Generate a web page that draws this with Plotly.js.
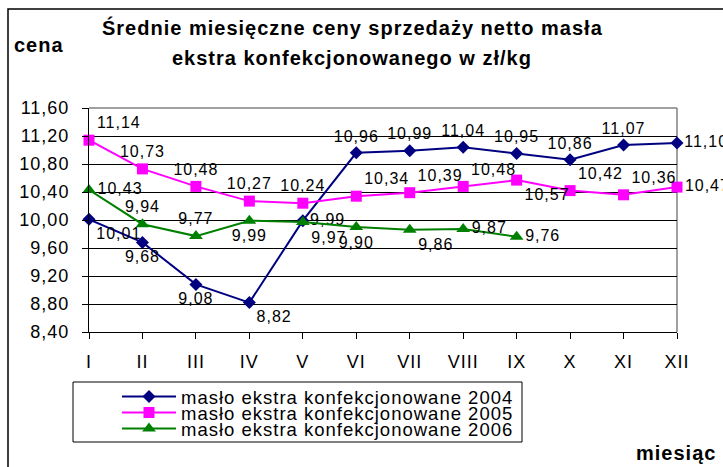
<!DOCTYPE html>
<html>
<head>
<meta charset="utf-8">
<script src="https://cdn.plot.ly/plotly-3.0.1.min.js"></script>
<style>
  html, body { margin: 0; padding: 0; background: #fff; }
  svg text { letter-spacing: 1px; }
</style>
</head>
<body>
<div id="chart" style="width:723px;height:467px;"></div>
<script>
// ---- data ----
const months = ['I', 'II', 'III', 'IV', 'V', 'VI', 'VII', 'VIII', 'IX', 'X', 'XI', 'XII'];
const months2006 = ['I', 'II', 'III', 'IV', 'V', 'VI', 'VII', 'VIII', 'IX'];
const price2004 = [10.01, 9.68, 9.08, 8.82, 9.99, 10.96, 10.99, 11.04, 10.95, 10.86, 11.07, 11.10];
const price2005 = [11.14, 10.73, 10.48, 10.27, 10.24, 10.34, 10.39, 10.48, 10.57, 10.42, 10.36, 10.47];
const price2006 = [10.43, 9.94, 9.77, 9.99, 9.97, 9.90, 9.86, 9.87, 9.76];
const yTicks = [8.4, 8.8, 9.2, 9.6, 10.0, 10.4, 10.8, 11.2, 11.6];
const seriesNames = ['masło ekstra konfekcjonowane 2004', 'masło ekstra konfekcjonowane 2005', 'masło ekstra konfekcjonowane 2006'];
const titleLine1 = 'Średnie miesięczne ceny sprzedaży netto masła';
const titleLine2 = 'ekstra konfekcjonowanego w zł/kg';

// ---- label placement ----
const pos2004 = ['bottom right','bottom center','bottom center','bottom right','middle right','top center','top center','top center','top center','top center','top center','middle right'];
const pos2005 = ['top right','top center','top center','top center','top center','top right','top right','top right','bottom right','top right','top right','middle right'];
const pos2006 = ['middle right','top center','top center','bottom center','bottom right','bottom center','bottom right','middle right','middle right'];

// ---- geometry (pixels) ----
const L = 89, R = 677, T = 108, B = 332;
const W = R - L, H = B - T;
const px = p => (p - L) / W;
const py = p => (B - p) / H;

const FONT = 'Arial, "Liberation Sans", sans-serif';
const labelFont = {family: FONT, size: 16, color: '#000'};

function trace(x, y, name, color, symbol, size, positions, legendId) {
  return {
    type: 'scatter', mode: 'lines+markers+text',
    x: x, y: y, name: name,
    line: {color: color, width: 2},
    marker: {color: color, symbol: symbol, size: size},
    texttemplate: '%{y:.2f}',
    textposition: positions,
    textfont: labelFont,
    cliponaxis: false,
    legend: legendId,
    hoverinfo: 'skip'
  };
}

const data = [
  trace(months, price2004, seriesNames[0], '#000080', 'diamond', 10, pos2004, 'legend'),
  trace(months, price2005, seriesNames[1], '#FF00FF', 'square', 11, pos2005, 'legend2'),
  trace(months2006, price2006, seriesNames[2], '#008000', 'triangle-up', 12, pos2006, 'legend3')
];

function legendAt(yPix) {
  return {
    x: px(117), xanchor: 'left', y: py(yPix), yanchor: 'middle',
    bgcolor: 'rgba(0,0,0,0)', borderwidth: 0,
    font: {family: FONT, size: 18.5, color: '#000'},
    itemwidth: 54, tracegroupgap: 0, itemclick: false, itemdoubleclick: false
  };
}

const layout = {
  width: 723, height: 467,
  margin: {l: L, r: 723 - R, t: T, b: 467 - B, pad: 0},
  paper_bgcolor: '#fff', plot_bgcolor: '#fff',
  separators: ', ',
  showlegend: true,
  font: {family: FONT, color: '#000'},
  xaxis: {
    type: 'category', categoryorder: 'array', categoryarray: months,
    range: [0, 11], showgrid: false, zeroline: false,
    showline: true, linecolor: '#000', linewidth: 1,
    ticks: 'outside', ticklen: 6, tickcolor: '#000', tickwidth: 1,
    tickfont: {family: FONT, size: 18, color: '#000'},
    ticklabelstandoff: 7,
    fixedrange: true
  },
  yaxis: {
    range: [8.4, 11.6], tickmode: 'array', tickvals: yTicks,
    tickformat: '.2f',
    showgrid: true, gridcolor: '#000', gridwidth: 1, zeroline: false,
    showline: true, linecolor: '#000', linewidth: 1,
    ticks: 'outside', ticklen: 6, tickcolor: '#000', tickwidth: 1,
    tickfont: {family: FONT, size: 18, color: '#000'},
    ticklabelstandoff: 9,
    fixedrange: true
  },
  legend: legendAt(397),
  legend2: legendAt(413),
  legend3: legendAt(429),
  shapes: [
    // outer chart border (extends past right/bottom edges)
    {type: 'rect', xref: 'paper', yref: 'paper', x0: px(8), x1: px(760), y0: py(500), y1: py(9),
     line: {color: '#000', width: 1.5}, fillcolor: 'rgba(0,0,0,0)', layer: 'below'},
    // plot frame top and right (gray)
    {type: 'line', xref: 'paper', yref: 'paper', x0: 0, x1: 1, y0: 1, y1: 1, line: {color: '#808080', width: 1.5}, layer: 'below'},
    {type: 'line', xref: 'paper', yref: 'paper', x0: 1, x1: 1, y0: 0, y1: 1, line: {color: '#808080', width: 1.5}, layer: 'below'},
    // legend box
    {type: 'rect', xref: 'paper', yref: 'paper', x0: px(73), x1: px(522), y0: py(442), y1: py(382),
     line: {color: '#000', width: 1}, fillcolor: 'rgba(0,0,0,0)'}
  ],
  annotations: [
    {text: titleLine1, xref: 'paper', yref: 'paper', x: px(352), y: py(28), xanchor: 'center', yanchor: 'middle',
     showarrow: false, font: {family: FONT, size: 20, weight: 700, color: '#000'}},
    {text: titleLine2, xref: 'paper', yref: 'paper', x: px(352), y: py(58), xanchor: 'center', yanchor: 'middle',
     showarrow: false, font: {family: FONT, size: 20, weight: 700, color: '#000'}},
    {text: 'cena', xref: 'paper', yref: 'paper', x: px(12), y: py(45), xanchor: 'left', yanchor: 'middle',
     showarrow: false, font: {family: FONT, size: 20, weight: 700, color: '#000'}},
    {text: 'miesiąc', xref: 'paper', yref: 'paper', x: px(718), y: py(453), xanchor: 'right', yanchor: 'middle',
     showarrow: false, font: {family: FONT, size: 20, weight: 700, color: '#000'}}
  ]
};

Plotly.newPlot('chart', data, layout, {displayModeBar: false, staticPlot: true});
</script>
</body>
</html>
